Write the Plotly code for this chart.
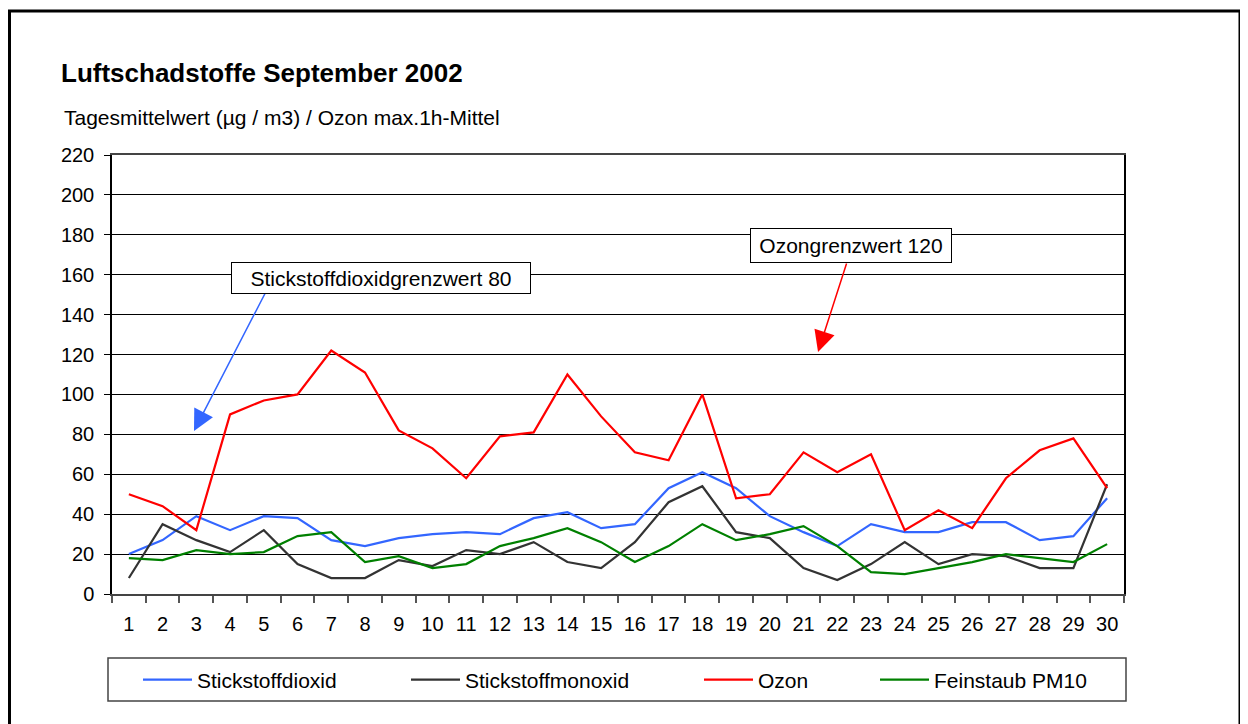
import plotly.graph_objects as go

days = [str(d) for d in range(1, 31)]

no2 = [20, 27, 39, 32, 39, 38, 27, 24, 28, 30, 31, 30, 38, 41, 33, 35, 53, 61, 53, 39,
       31, 24, 35, 31, 31, 36, 36, 27, 29, 48]
no = [8, 35, 27, 21, 32, 15, 8, 8, 17, 14, 22, 20, 26, 16, 13, 26, 46, 54, 31, 28,
      13, 7, 15, 26, 15, 20, 19, 13, 13, 55]
ozon = [50, 44, 32, 90, 97, 100, 122, 111, 82, 73, 58, 79, 81, 110, 89, 71, 67, 100, 48, 50,
        71, 61, 70, 32, 42, 33, 58, 72, 78, 53]
pm10 = [18, 17, 22, 20, 21, 29, 31, 16, 19, 13, 15, 24, 28, 33, 26, 16, 24, 35, 27, 30,
        34, 24, 11, 10, 13, 16, 20, 18, 16, 25]

series_names = ["Stickstoffdioxid", "Stickstoffmonoxid", "Ozon", "Feinstaub PM10"]
series_values = [no2, no, ozon, pm10]
series_colors = ["#3366FF", "#333333", "#FF0000", "#008000"]
legend_ids = ["legend", "legend2", "legend3", "legend4"]

title_text = "Luftschadstoffe September 2002"
subtitle_text = "Tagesmittelwert (µg / m3) / Ozon max.1h-Mittel"
no2_limit_text = "Stickstoffdioxidgrenzwert 80"
ozon_limit_text = "Ozongrenzwert 120"

# page is rendered with an 8px body margin, so figure coords = screen coords - 8
W, H = 1248, 724
OFF = 8
PL, PR, PT, PB = 112, 1124, 155, 594          # plot area in screen coordinates
L, T = PL - OFF, PT - OFF
PW, PH = PR - PL, PB - PT
R, B = W - L - PW, H - T - PH

def px(x):
    return (x - PL) / PW

def py(y):
    return (PB - y) / PH

FONT = "Liberation Sans, Arial, sans-serif"

fig = go.Figure()
for name, vals, col, lg in zip(series_names, series_values, series_colors, legend_ids):
    fig.add_trace(go.Scatter(x=days, y=vals, mode="lines", name=name,
                             line=dict(color=col, width=2.2), legend=lg))

legend_starts = [143, 411, 704, 880]
legend_common = dict(orientation="h", xanchor="left", yanchor="middle",
                     bgcolor="rgba(0,0,0,0)", borderwidth=0,
                     font=dict(family=FONT, size=21, color="black"),
                     itemwidth=49, itemclick=False, itemdoubleclick=False)
legends = {}
for lg, xs in zip(legend_ids, legend_starts):
    legends[lg] = dict(legend_common, x=px(xs - 5), y=py(680))

shapes = [
    # outer frame
    dict(type="rect", xref="paper", yref="paper", x0=px(9.5), x1=px(1240), y0=py(760), y1=py(11),
         line=dict(color="black", width=3), fillcolor="rgba(0,0,0,0)", layer="below"),
    # legend frame
    dict(type="rect", xref="paper", yref="paper", x0=px(108), x1=px(1126), y0=py(701), y1=py(658),
         line=dict(color="#444444", width=1.5), fillcolor="rgba(0,0,0,0)"),
]

annotations = [
    dict(text="<b>" + title_text + "</b>", xref="paper", yref="paper", x=px(59), y=py(73),
         xanchor="left", yanchor="middle", showarrow=False,
         font=dict(family=FONT, size=26, color="black")),
    dict(text=subtitle_text, xref="paper", yref="paper", x=px(62), y=py(118),
         xanchor="left", yanchor="middle", showarrow=False,
         font=dict(family=FONT, size=21, color="black")),
    # arrows
    dict(text="", x=1.93, y=81.7, xref="x", yref="y", ax=77, ay=-149, showarrow=True,
         arrowhead=2, arrowsize=2.8, arrowwidth=1.5, arrowcolor="#3366FF", standoff=0),
    dict(text="", x=20.43, y=121.3, xref="x", yref="y", ax=29, ay=-90, showarrow=True,
         arrowhead=2, arrowsize=2.8, arrowwidth=1.5, arrowcolor="#FF0000", standoff=0),
    # limit boxes
    dict(text=no2_limit_text, xref="paper", yref="paper", x=px(381), y=py(278),
         xanchor="center", yanchor="middle", showarrow=False, width=296, height=28,
         bgcolor="white", bordercolor="black", borderwidth=1, borderpad=1,
         font=dict(family=FONT, size=21, color="black")),
    dict(text=ozon_limit_text, xref="paper", yref="paper", x=px(851), y=py(245),
         xanchor="center", yanchor="middle", showarrow=False, width=198, height=31,
         bgcolor="white", bordercolor="black", borderwidth=1, borderpad=1,
         font=dict(family=FONT, size=21, color="black")),
]

fig.update_layout(
    width=W, height=H,
    margin=dict(l=L, r=R, t=T, b=B, autoexpand=False),
    paper_bgcolor="white", plot_bgcolor="white",
    font=dict(family=FONT, size=20, color="black"),
    showlegend=True,
    shapes=shapes,
    annotations=annotations,
    **legends,
)
fig.update_xaxes(type="category", range=[-0.5, len(days) - 0.5], tickson="boundaries",
                 ticks="outside", ticklen=7,
                 tickcolor="#555555", tickwidth=1.5, showline=True, linecolor="#444444",
                 linewidth=2, mirror=True, showgrid=False,
                 tickfont=dict(family=FONT, size=20, color="black"), ticklabelstandoff=11)
fig.update_yaxes(range=[0, 220], dtick=20, tick0=0, ticks="outside", ticklen=6,
                 tickcolor="black", tickwidth=1, showline=True, linecolor="black",
                 linewidth=1.5, mirror=True, showgrid=True, gridcolor="black", gridwidth=1,
                 zeroline=False, tickfont=dict(family=FONT, size=20, color="black"),
                 ticklabelstandoff=6)

fig.write_html("out.html")
